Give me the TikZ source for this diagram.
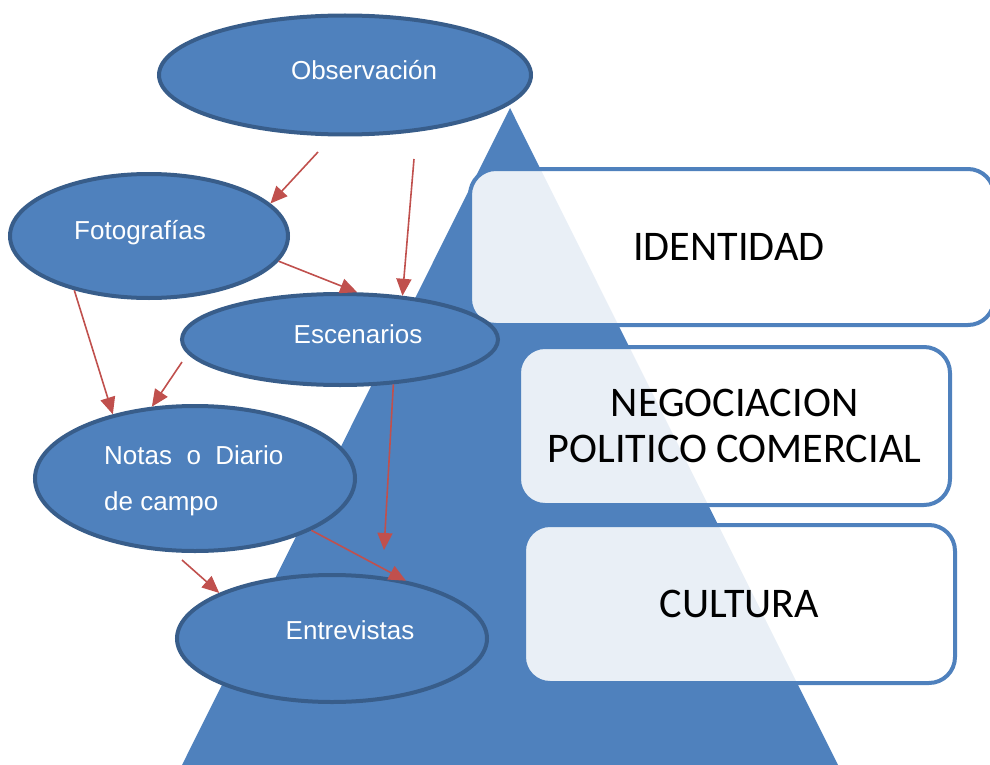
\documentclass[tikz,border=0pt]{standalone}
\usepackage{fontspec}
\setmainfont{Liberation Sans}
\newfontfamily\boxfont{Carlito}
\usetikzlibrary{shapes.geometric,arrows.meta}
\definecolor{fillb}{HTML}{4F81BD}
\definecolor{ellb}{HTML}{385D8A}
\definecolor{arrred}{HTML}{C0504D}
\begin{document}
\begin{tikzpicture}[x=1pt,y=-1pt,
  ell/.style={ellipse, draw=ellb, line width=4pt, fill=fillb, inner sep=0pt},
  etxt/.style={text=white, font=\fontsize{26}{31}\selectfont, inner sep=0pt, anchor=base},
  lvl/.style={rectangle, draw=fillb, line width=4pt, rounded corners=26pt, fill=white, fill opacity=0.88, text opacity=1, align=center, font=\boxfont\fontsize{42.2}{46}\selectfont, inner sep=0pt},
  arr/.style={draw=arrred, line width=1.6pt, -{Triangle[length=17pt,width=15pt]}}]
\useasboundingbox (0,0) rectangle (990,765);
% pyramid
\fill[fillb] (510,108) -- (838,765) -- (182,765) -- cycle;
% level boxes
\node[lvl, minimum width=524pt, minimum height=156pt] (b1) at (732,247) {\hspace*{-6pt}IDENTIDAD};
\node[lvl, minimum width=431pt, minimum height=158pt] (b2) at (734.5,426) {NEGOCIACION\\POLITICO COMERCIAL};
\node[lvl, minimum width=431pt, minimum height=158pt] (b3) at (739.5,604) {CULTURA};
% ellipses
\node[ell, minimum width=372pt, minimum height=119pt] (obs) at (345,75) {};
\node[ell, minimum width=278pt, minimum height=124pt] (foto) at (149,236) {};
\node[ell, minimum width=316pt, minimum height=91pt] (esc) at (340,339.5) {};
\node[ell, minimum width=320pt, minimum height=145pt] (notas) at (195,478.5) {};
\node[ell, minimum width=310pt, minimum height=127pt] (entr) at (332,638.5) {};
% ellipse texts
\node[etxt] (obsT) at (364,80) {Observación};
\node[etxt] (fotoT) at (140,239) {Fotografías};
\node[etxt] (escT) at (358,343) {Escenarios};
\node[etxt, anchor=base west] (notasT) at (104,464) {Notas\ \ o\ \ Diario};
\node[etxt, anchor=base west] (notasT2) at (104,510) {de campo};
\node[etxt] (entrT) at (350,639) {Entrevistas};
% arrows
\coordinate (s1) at (318,152);
\coordinate (s2) at (414,159);
\coordinate (s5) at (182,362);
\coordinate (e6) at (384,550);
\coordinate (s8) at (182,560);
\draw[arr] (s1) -- (foto.15);
\draw[arr] (s2) -- (esc.35);
\draw[arr] (foto.-11) -- (esc.70);
\draw[arr] (foto.216) -- (notas.142);
\draw[arr] (s5) -- (notas.121);
\draw[arr] (esc.-40) -- (e6);
\draw[arr] (notas.-24) -- (entr.38);
\draw[arr] (s8) -- (entr.158);
\end{tikzpicture}
\end{document}
